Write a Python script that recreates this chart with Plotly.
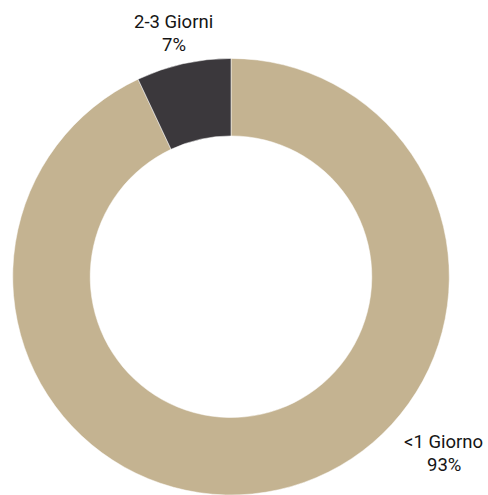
import plotly.graph_objects as go

labels = ["<1 Giorno", "2-3 Giorni"]
values = [93, 7]
colors = ["#C4B391", "#3B383C"]

W, H = 488, 495
fig = go.Figure(go.Pie(
    labels=labels, values=values, sort=False, direction="clockwise",
    rotation=0, hole=0.645, textinfo="none", hoverinfo="label+percent",
    marker=dict(colors=colors, line=dict(color="white", width=0.5)),
    domain=dict(x=[11 / W, 451 / W], y=[0, 0.882]),
    showlegend=False,
))

font = dict(family="Roboto", size=18.5, color="#151515")
# (x center, y of name line, y of percent line) in pixels from top-left
label_pos = [(443.5, 442, 464.5), (173.5, 22, 44.5)]
for lab, val, (px, py1, py2) in zip(labels, values, label_pos):
    for txt, py in ((lab, py1), (f"{val}%", py2)):
        fig.add_annotation(x=px / W, y=1 - py / H, xref="paper", yref="paper",
                           text=txt, showarrow=False, font=font,
                           xanchor="center", yanchor="middle", align="center")

fig.update_layout(width=W, height=H, margin=dict(l=0, r=0, t=0, b=0),
                  paper_bgcolor="white", plot_bgcolor="white")
fig.write_html("out.html")
